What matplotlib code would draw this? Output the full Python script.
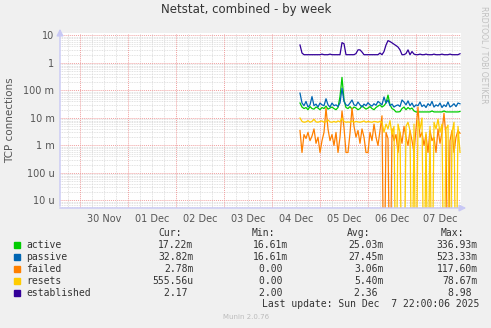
import matplotlib
matplotlib.use('Agg')
import matplotlib.pyplot as plt
import numpy as np

plt.rcParams['font.family'] = 'DejaVu Sans'

# hours since 30 Nov 00:00; samples hourly from 4 Dec 14:00 to 7 Dec 22:00
t_start = 110
day_labels = ['30 Nov', '01 Dec', '02 Dec', '03 Dec', '04 Dec', '05 Dec', '06 Dec', '07 Dec']

# values in milli-connections (x1e-3)
active = [35, 25, 22, 24, 20, 26, 22, 21, 25, 23, 20, 24, 22, 27, 21, 23, 25, 22, 20, 24,
          60, 300, 45, 24,
          22, 26, 21, 25, 23, 20, 22, 28, 24, 21, 23, 26, 22, 20, 24, 27,
          30, 25, 28, 35, 68, 30, 22, 20, 16.6, 16.6, 17, 22, 25, 20, 24, 21, 23, 18, 16.6, 16.6,
          16.6, 16.6, 16.6, 16.6, 16.6, 16.6, 18, 16.6, 16.6, 16.6, 16.6, 16.6, 18, 16.6, 16.6,
          16.6, 16.6, 16.6, 16.6, 16.6, 17.2]
passive = [80, 35, 28, 40, 25, 30, 60, 28, 32, 25, 35, 30, 28, 50, 30, 25, 35, 28, 30, 26,
           35, 120, 40, 30, 28, 35, 45, 30, 28, 38, 30, 25, 32, 28, 36, 30, 27, 33, 29, 40,
           35, 30, 58, 35, 45, 28, 32, 25, 28, 30, 26, 45, 38, 30, 42, 28, 35, 25, 30, 28,
           38, 26, 30, 24, 33, 28, 40, 25, 30, 27, 35, 24, 30, 26, 38, 25, 28, 33, 26, 35, 32.8]
failed = [3.5, 0.556, 2.5, 1.8, 3.0, 1.5, 2.2, 4.0, 1.2, 2.0, 0.556, 1.5, 3.0, 23, 4.0, 1.5,
          2.5, 1.0, 3.0, 0.556, 2.0, 18, 4.5, 0.556, 0.556, 2.8, 23, 5.0, 2.0, 3.5, 1.2, 4.0,
          2.0, 0.556, 0.556, 3.0, 1.5, 6.0, 2.0, 1.0, 3.5, 12, 0.0, 3.0, 1.8, 0.0, 4.0, 1.5,
          2.5, 0.556, 3.0, 1.2, 5.0, 2.0, 1.0, 3.5, 1.5, 0.556, 4.0, 25, 2.0, 3.0, 1.0, 2.5,
          0.556, 3.5, 1.5, 2.0, 0.556, 4.0, 1.2, 3.0, 15, 2.0, 0.0, 1.5, 3.5, 0.556, 2.0, 3.5, 2.78]
resets = [10, 7.5, 7.0, 7.2, 8.0, 7.0, 7.5, 9.0, 7.2, 7.0, 7.5, 7.8, 7.0, 7.3, 8.5, 7.2,
          7.0, 7.5, 7.0, 7.8, 7.2, 10, 7.5, 7.0, 7.2, 7.0, 7.8, 7.0, 7.5, 7.2, 7.0, 7.3,
          7.8, 7.0, 7.5, 7.2, 7.0, 7.5, 7.3, 7.0, 7.6, 7.0,
          3.0, 6.0, 4.0, 8.0, 2.5, 5.0, 0, 6.0, 3.0, 0, 0, 5.0, 7.0, 3.5, 0, 6.0, 0, 8.0,
          4.0, 10, 0, 3.0, 0, 5.0, 0, 7.0, 4.0, 9.0, 3.0, 6.0, 0, 4.0, 5.5, 0, 3.0, 7.0, 0, 5.0, 0.556]
established = [4.5, 2.3, 2.0, 2.0, 2.0, 2.0, 2.0, 2.0, 2.0, 2.0, 2.0, 2.1, 2.0, 2.0, 2.0, 2.1,
               2.0, 2.0, 2.0, 2.0, 2.0, 5.5, 5.0, 2.0, 2.0, 2.0, 2.0, 2.0, 2.2, 3.0, 3.0, 2.5,
               2.0, 2.0, 2.0, 2.0, 2.0, 2.0, 2.0, 2.0, 2.3, 2.0, 2.6, 4.5, 6.5, 6.0, 5.4, 4.8,
               4.3, 3.8, 3.0, 2.0, 2.0, 2.2, 3.0, 2.0, 2.6, 2.1, 2.0, 2.0, 2.1, 2.0, 2.0, 2.1,
               2.0, 2.0, 2.0, 2.1, 2.0, 2.0, 2.0, 2.1, 2.0, 2.0, 2.0, 2.1, 2.0, 2.0, 2.0, 2.0, 2.17]

names = ['active', 'passive', 'failed', 'resets', 'established']
colors = ['#00CC00', '#0066B3', '#FF8000', '#FFCC00', '#330099']
cur = ['17.22m', '32.82m', '2.78m', '555.56u', '2.17 ']
mins = ['16.61m', '16.61m', '0.00 ', '0.00 ', '2.00 ']
avgs = ['25.03m', '27.45m', '3.06m', '5.40m', '2.36 ']
maxs = ['336.93m', '523.33m', '117.60m', '78.67m', '8.98 ']

W, H = 491, 328
fig = plt.figure(figsize=(W / 100, H / 100), dpi=100, facecolor='#F0F0F0')
ax = fig.add_axes([60 / W, 120 / H, 401 / W, 175 / H])
ax.set_facecolor('white')
ax.set_yscale('log')
ax.set_xlim(-10, 190.5)
ax.set_ylim(10 ** -5.273, 10 ** 1.09)

# grid: minor grey, major red
for d in range(-6, 2):
    for k in range(2, 10):
        ax.axhline(k * 10.0 ** d, color='#D8D8D8', lw=0.6, ls=(0, (1, 1)), zorder=0)
    ax.axhline(10.0 ** d, color='#F0A0A0', lw=0.7, ls=(0, (1, 1)), zorder=0.5)
for h in range(-6, 192, 6):
    if h % 24 == 0:
        ax.axvline(h, color='#F0A0A0', lw=0.7, ls=(0, (1, 1)), zorder=0.5)
    else:
        ax.axvline(h, color='#D8D8D8', lw=0.6, ls=(0, (1, 1)), zorder=0)

t = t_start + np.arange(len(active))
series = [np.array(active) * 1e-3, np.array(passive) * 1e-3, np.array(failed) * 1e-3,
          np.array(resets) * 1e-3, np.array(established)]
for vals, c in zip(series, colors):
    ax.plot(t, np.where(vals > 0, vals, 1e-9), color=c, lw=0.9, zorder=3)

ax.set_xticks([12 + 24 * i for i in range(len(day_labels))])
ax.set_xticklabels(day_labels)
ax.set_yticks([1e-5, 1e-4, 1e-3, 1e-2, 1e-1, 1, 10])
ax.set_yticklabels(['10 u', '100 u', '1 m', '10 m', '100 m', '1', '10'])
ax.minorticks_off()
ax.tick_params(length=0, labelsize=7, colors='#555555', pad=4)
for s in ax.spines.values():
    s.set_visible(False)
ax.set_ylabel('TCP connections', fontsize=7.5, color='#555555', labelpad=6)

# axis arrows
arrow = dict(arrowstyle='-|>,head_length=0.4,head_width=0.2', color='#C8C8F5', lw=1)
fig.add_artist(matplotlib.patches.FancyArrowPatch((60, H - 209), (60, H - 26), transform=None, mutation_scale=10, **arrow))
fig.add_artist(matplotlib.patches.FancyArrowPatch((57, H - 208), (469, H - 208), transform=None, mutation_scale=10, **arrow))

fig.text(246 / W, 1 - 10 / H, 'Netstat, combined - by week', ha='center', va='center',
         fontsize=8.5, color='#333333')
fig.text(484 / W, 1 - 55 / H, 'RRDTOOL / TOBI OETIKER', rotation=270, ha='center', va='center',
         fontsize=5.5, color='#C0C0C0')

mono = dict(family='DejaVu Sans Mono', fontsize=7, color='#333333', va='center')
fig.text(158 / W, 1 - 233 / H, 'Cur:', **mono)
fig.text(252 / W, 1 - 233 / H, 'Min:', **mono)
fig.text(347 / W, 1 - 233 / H, 'Avg:', **mono)
fig.text(441 / W, 1 - 233 / H, 'Max:', **mono)
cw = 5.8
for i, name in enumerate(names):
    y = 1 - (244.5 + 12 * i) / H
    fig.patches.append(matplotlib.patches.Rectangle((14 / W, y - 3 / H), 6 / W, 6 / H,
                                                     transform=fig.transFigure, color=colors[i]))
    fig.text(26 / W, y, name, **mono)
    for col, right in zip([cur, mins, avgs, maxs], [193, 288, 383, 477]):
        s = col[i]
        fig.text((right - cw * len(s)) / W, y, s, **mono)
last = 'Last update: Sun Dec  7 22:00:06 2025'
fig.text((477 - cw * len(last)) / W, 1 - 304 / H, last, **mono)
fig.text(246 / W, 1 - 317 / H, 'Munin 2.0.76', ha='center', va='center', fontsize=5, color='#BBBBBB')

fig.savefig('out.png', dpi=100, facecolor=fig.get_facecolor())
